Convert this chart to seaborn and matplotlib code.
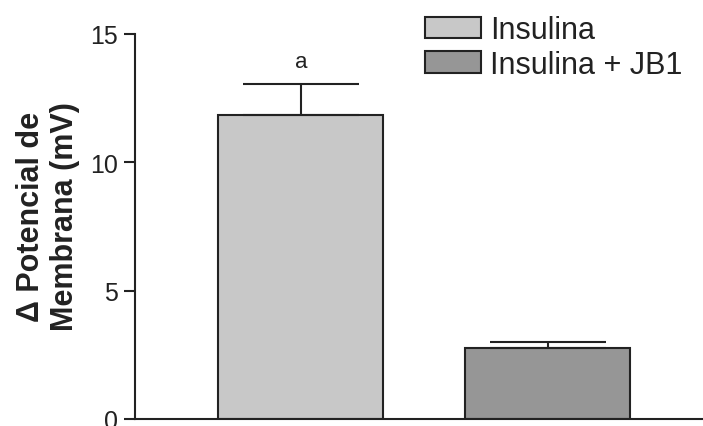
import matplotlib
matplotlib.use("Agg")
import matplotlib.pyplot as plt
import seaborn as sns
import pandas as pd

# data
groups = ["Insulina", "Insulina + JB1"]
means = [11.85, 2.75]
sem = [1.2, 0.25]
letters = ["a", ""]
colors = ["#c8c8c8", "#969696"]

sns.set_style("ticks")
plt.rcParams["font.family"] = ["Liberation Sans", "DejaVu Sans"]

df = pd.DataFrame({"grupo": groups, "dV": means})

fig = plt.figure(figsize=(7.03, 4.27), dpi=100)
ax = fig.add_axes([0.192, 0.0164, 0.808, 0.902])

sns.barplot(data=df, x="grupo", y="dV", hue="grupo", palette=colors,
            width=0.67, edgecolor="#222222", linewidth=1.5, ax=ax, legend=False)

# upper error bar only
ax.errorbar(range(len(groups)), means, yerr=[[0] * len(sem), sem], fmt="none",
            ecolor="#222222", elinewidth=1.5, capsize=42, capthick=1.5)

for i, t in enumerate(letters):
    if t:
        ax.text(i, means[i] + sem[i] + 0.45, t, ha="center", va="bottom",
                fontsize=16, color="#222222")

ax.set_xlim(-0.672, 1.63)
ax.set_ylim(0, 15)
ax.set_yticks([0, 5, 10, 15])
ax.set_xticks([])
ax.set_xlabel("")
ax.set_ylabel("Δ Potencial de\nMembrana (mV)", fontsize=22, fontweight="bold",
              linespacing=1.15, color="#222222")
ax.yaxis.set_label_coords(-0.097, 0.527)
ax.tick_params(axis="y", labelsize=18, length=8, width=1.5, direction="out",
               pad=4, labelcolor="#222222", color="#222222")
for s in ["top", "right"]:
    ax.spines[s].set_visible(False)
for s in ["left", "bottom"]:
    ax.spines[s].set_linewidth(1.5)
    ax.spines[s].set_color("#222222")

handles = [plt.Rectangle((0, 0), 1, 1, facecolor=c, edgecolor="#222222", linewidth=1.5)
           for c in colors]
leg = fig.legend(handles, groups, loc="upper left", bbox_to_anchor=(0.604, 0.962),
                 frameon=False, fontsize=22, handlelength=1.85, handleheight=0.7,
                 handletextpad=0.3, labelspacing=0.15, borderaxespad=0, borderpad=0)
for t in leg.get_texts():
    t.set_color("#222222")

fig.savefig("out.png", dpi=100)
